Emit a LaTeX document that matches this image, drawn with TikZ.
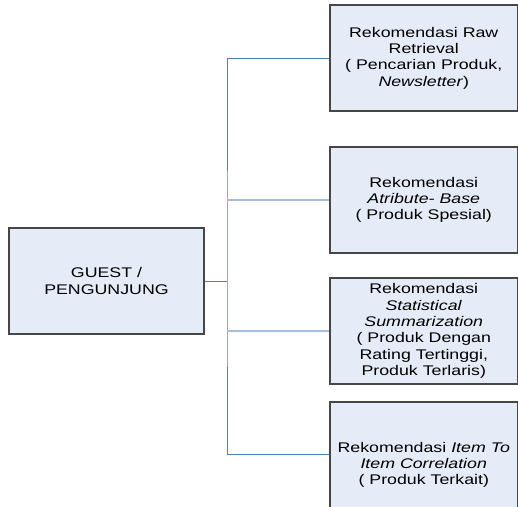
\documentclass[tikz,border=0pt]{standalone}
\usepackage{fontspec}
\setmainfont{Liberation Sans}[FakeStretch=1.27]
\definecolor{boxfill}{RGB}{230,236,247}
\definecolor{boxedge}{RGB}{70,70,70}
\definecolor{linkblue}{RGB}{79,129,189}
\definecolor{linklight}{RGB}{165,190,226}
\begin{document}
\begin{tikzpicture}[x=1pt,y=-1pt,
  box/.style={draw=boxedge, line width=1.1pt, fill=boxfill, align=center,
    inner sep=0pt, font=\fontsize{14}{16.3}\selectfont},
  rbox/.style={box, minimum width=187.5, minimum height=106},
  txt/.style={align=center, inner sep=0pt, font=\fontsize{14}{16.3}\selectfont},
  link/.style={draw=linkblue, line width=0.9pt},
  linksoft/.style={draw=linklight, line width=1.2pt}]
\useasboundingbox (0,0) rectangle (518,506);
\clip (0,0) rectangle (518,506);

% visitor box
\node[box, minimum width=195, minimum height=106] (guest) at (106.5,281)
  {GUEST /\\PENGUNJUNG};

% recommendation boxes
\node[rbox] (b1) at (423.75,58)
  {Rekomendasi Raw\\Retrieval\\( Pencarian Produk,\\\textit{Newsletter})};
\node[rbox] (b2) at (423.75,200)
  {Rekomendasi\\\textit{Atribute- Base}\\( Produk Spesial)};
\node[rbox] (b3) at (423.75,331)
  {Rekomendasi\\\textit{Statistical}\\\textit{Summarization}\\( Produk Dengan\\Rating Tertinggi,\\Produk Terlaris)};
% the last box runs past the lower edge of the page
\node[rbox, minimum height=112] (b4) at (423.75,458) {};
\node[txt] (b4t) at (423.75,465)
  {Rekomendasi \textit{Item To}\\\textit{Item Correlation}\\( Produk Terkait)};

% tree connectors
\coordinate (trunk) at (227,281);
\draw[link] (guest.east) -- (trunk);
\draw[link] (b1.west) -| (trunk) |- ([yshift=4pt]b4.west);
\draw[linksoft] (trunk |- b2.west) -- (b2.west);
\draw[linksoft] (trunk |- b3.west) -- (b3.west);
\end{tikzpicture}
\end{document}
